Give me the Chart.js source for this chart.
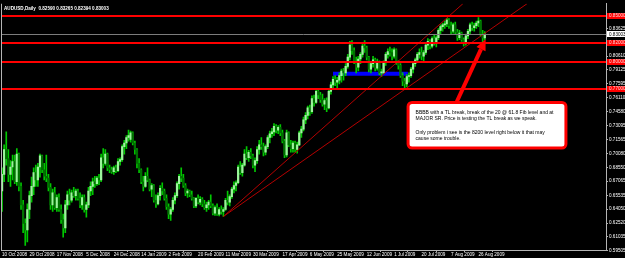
<!DOCTYPE html>
<html>
<head>
<meta charset="utf-8">
<script src="https://cdn.jsdelivr.net/npm/chart.js@4.4.1/dist/chart.umd.min.js"></script>
<style>
  html, body { margin: 0; padding: 0; background: #000; }
  #wrap { width: 625px; height: 258px; }
</style>
</head>
<body>
<div id="wrap"><canvas id="chart" width="625" height="258"></canvas></div>
<script>
const headerText = 'AUDUSD,Daily  0.82590 0.83265 0.82394 0.83003';

// x axis: bar index of each date label, and its text
const dateTickIndex = [0, 13, 26, 40, 53, 66, 79, 93, 106, 119, 133, 146, 159, 173, 186, 199, 213, 226];
const dateLabels = ['10 Oct 2008', '29 Oct 2008', '17 Nov 2008', '5 Dec 2008', '24 Dec 2008', '14 Jan 2009',
  '2 Feb 2009', '20 Feb 2009', '11 Mar 2009', '30 Mar 2009', '17 Apr 2009', '6 May 2009', '25 May 2009',
  '12 Jun 2009', '1 Jul 2009', '20 Jul 2009', '7 Aug 2009', '26 Aug 2009'];

// right price scale labels
const priceTicks = [0.59505, 0.61035, 0.62520, 0.64050, 0.65535, 0.67065, 0.68550, 0.70080, 0.71565,
  0.73095, 0.74580, 0.76110, 0.77595, 0.79125, 0.80610, 0.83625];

// daily OHLC, one entry per trading day from 10 Oct 2008
const opens = [
  .6600,.6780,.7050,.6950,.6780,.6860,.6920,.6700,.7000,.6650,
  .6450,.6250,.6180,.6400,.6550,.6650,.6800,.6720,.6860,.6980,
  .6830,.6760,.6740,.6640,.6450,.6580,.6420,.6530,.6400,.6290,
  .6200,.6450,.6560,.6500,.6580,.6550,.6600,.6520,.6450,.6530,
  .6400,.6450,.6600,.6650,.6700,.6680,.6740,.6720,.6960,.6900,
  .7000,.6850,.6830,.6810,.6850,.6820,.6920,.6940,.7080,.7120,
  .7180,.7160,.7230,.7120,.7050,.6900,.6830,.6700,.6650,.6760,
  .6720,.6620,.6660,.6500,.6460,.6550,.6630,.6600,.6520,.6430,
  .6350,.6400,.6500,.6550,.6680,.6760,.6740,.6660,.6580,.6600,
  .6560,.6520,.6440,.6520,.6480,.6510,.6460,.6420,.6450,.6480,
  .6440,.6360,.6420,.6350,.6400,.6380,.6400,.6500,.6480,.6540,
  .6620,.6660,.6690,.6860,.6800,.6880,.7000,.6960,.7020,.6980,
  .6880,.6930,.7050,.7100,.7080,.7020,.7080,.7180,.7220,.7240,
  .7300,.7260,.7290,.7230,.7140,.6990,.7230,.7100,.7060,.7120,
  .7050,.7100,.7230,.7270,.7370,.7420,.7500,.7460,.7600,.7560,
  .7680,.7640,.7590,.7540,.7580,.7500,.7680,.7750,.7810,.7780,
  .7800,.7850,.7900,.7880,.7950,.8050,.8180,.8120,.8000,.7940,
  .8030,.8080,.8170,.8150,.8050,.7920,.7980,.8020,.7930,.8000,
  .7880,.7880,.7990,.8080,.8110,.8100,.8060,.8130,.7990,.7960,
  .7850,.7790,.7760,.7840,.7850,.7920,.7980,.8020,.8080,.8100,
  .8060,.8100,.8180,.8220,.8170,.8250,.8210,.8260,.8340,.8380,
  .8400,.8410,.8450,.8390,.8330,.8400,.8320,.8260,.8310,.8240,
  .8200,.8280,.8330,.8400,.8370,.8390,.8420,.8440,.8300,.82590
];
const highs = [
  .6850,.7100,.7240,.7050,.6930,.6990,.6990,.7060,.7010,.6690,
  .6500,.6300,.6460,.6600,.6750,.6850,.6880,.6900,.7000,.6990,
  .6900,.6990,.6780,.6680,.6620,.6640,.6560,.6570,.6450,.6350,
  .6500,.6600,.6620,.6610,.6640,.6620,.6620,.6580,.6560,.6560,
  .6480,.6640,.6700,.6740,.6760,.6760,.6780,.7000,.7060,.7050,
  .7010,.6880,.6860,.6870,.6880,.6950,.6960,.7100,.7150,.7200,
  .7259,.7250,.7240,.7140,.7060,.6950,.6840,.6760,.6800,.6850,
  .6730,.6680,.6670,.6560,.6580,.6660,.6690,.6620,.6560,.6460,
  .6420,.6530,.6580,.6700,.6780,.6850,.6780,.6680,.6620,.6610,
  .6600,.6530,.6530,.6560,.6540,.6530,.6500,.6480,.6500,.6560,
  .6460,.6440,.6460,.6420,.6440,.6420,.6520,.6600,.6560,.6640,
  .6700,.6710,.6880,.6920,.6900,.7050,.7080,.7040,.7060,.7000,
  .6960,.7080,.7150,.7180,.7120,.7100,.7200,.7250,.7280,.7330,
  .7320,.7310,.7320,.7260,.7160,.7260,.7240,.7150,.7140,.7140,
  .7130,.7250,.7300,.7400,.7450,.7520,.7530,.7630,.7640,.7700,
  .7710,.7670,.7650,.7600,.7610,.7700,.7780,.7840,.7850,.7830,
  .7880,.7920,.7930,.7980,.8080,.8220,.8230,.8150,.8050,.8060,
  .8100,.8200,.8230,.8170,.8060,.8000,.8060,.8040,.8030,.8010,
  .7920,.8010,.8100,.8140,.8160,.8140,.8150,.8140,.8010,.7980,
  .7880,.7820,.7860,.7880,.7940,.8000,.8040,.8100,.8140,.8160,
  .8120,.8200,.8250,.8240,.8270,.8290,.8280,.8360,.8400,.8420,
  .8440,.8470,.8468,.8430,.8420,.8430,.8350,.8340,.8320,.8260,
  .8300,.8350,.8420,.8430,.8420,.8440,.8479,.8450,.8340,.83265
];
const lows = [
  .6380,.6700,.6880,.6700,.6650,.6720,.6680,.6660,.6600,.6400,
  .6150,.6010,.6050,.6300,.6480,.6560,.6650,.6650,.6750,.6800,
  .6720,.6700,.6600,.6400,.6380,.6400,.6380,.6380,.6250,.6100,
  .6150,.6400,.6450,.6480,.6530,.6500,.6500,.6420,.6400,.6370,
  .6317,.6420,.6550,.6560,.6640,.6660,.6670,.6700,.6850,.6880,
  .6820,.6800,.6790,.6780,.6800,.6810,.6880,.6920,.7000,.7060,
  .7140,.7130,.7100,.7000,.6850,.6800,.6680,.6600,.6640,.6700,
  .6600,.6540,.6480,.6423,.6450,.6500,.6560,.6500,.6400,.6300,
  .6281,.6380,.6460,.6530,.6620,.6700,.6640,.6550,.6530,.6540,
  .6500,.6420,.6420,.6460,.6450,.6430,.6400,.6380,.6400,.6420,
  .6340,.6335,.6335,.6330,.6350,.6324,.6390,.6450,.6440,.6520,
  .6580,.6600,.6680,.6780,.6760,.6870,.6940,.6920,.6950,.6850,
  .6810,.6900,.7000,.7050,.6980,.6990,.7060,.7120,.7180,.7200,
  .7230,.7220,.7200,.7120,.6960,.6970,.7080,.7020,.7020,.7020,
  .7010,.7090,.7180,.7250,.7330,.7380,.7420,.7440,.7520,.7550,
  .7600,.7560,.7520,.7480,.7460,.7490,.7650,.7720,.7740,.7700,
  .7760,.7780,.7800,.7850,.7930,.8020,.8080,.7980,.7880,.7900,
  .7980,.8050,.8100,.8020,.7890,.7880,.7940,.7900,.7910,.7860,
  .7840,.7870,.7960,.8040,.8060,.8020,.8040,.7970,.7920,.7830,
  .7740,.7710,.7730,.7780,.7830,.7880,.7950,.8000,.8040,.8020,
  .8010,.8080,.8130,.8140,.8150,.8180,.8160,.8240,.8300,.8330,
  .8360,.8380,.8360,.8300,.8310,.8300,.8230,.8240,.8220,.8170,
  .8180,.8250,.8300,.8340,.8330,.8360,.8380,.8280,.8200,.82394
];
const closes = [
  .6780,.7050,.6950,.6780,.6860,.6920,.6700,.7000,.6650,.6450,
  .6250,.6180,.6400,.6550,.6650,.6800,.6720,.6860,.6980,.6830,
  .6760,.6740,.6640,.6450,.6580,.6420,.6530,.6400,.6290,.6200,
  .6450,.6560,.6500,.6580,.6550,.6600,.6520,.6450,.6530,.6400,
  .6450,.6600,.6650,.6700,.6680,.6740,.6720,.6960,.6900,.7000,
  .6850,.6830,.6810,.6850,.6820,.6920,.6940,.7080,.7120,.7180,
  .7200,.7230,.7120,.7050,.6900,.6830,.6700,.6650,.6760,.6720,
  .6620,.6660,.6500,.6460,.6550,.6630,.6600,.6520,.6430,.6350,
  .6400,.6500,.6550,.6680,.6760,.6740,.6660,.6580,.6600,.6560,
  .6520,.6440,.6520,.6480,.6510,.6460,.6420,.6450,.6480,.6440,
  .6360,.6420,.6350,.6400,.6380,.6400,.6500,.6480,.6540,.6620,
  .6660,.6690,.6860,.6800,.6880,.7000,.6960,.7020,.6980,.6880,
  .6930,.7050,.7100,.7080,.7020,.7080,.7180,.7220,.7240,.7300,
  .7260,.7290,.7230,.7140,.6990,.7230,.7100,.7060,.7120,.7050,
  .7100,.7230,.7270,.7370,.7420,.7500,.7460,.7600,.7560,.7680,
  .7640,.7590,.7540,.7580,.7500,.7680,.7750,.7810,.7780,.7800,
  .7850,.7900,.7880,.7950,.8050,.8180,.8120,.8000,.7940,.8030,
  .8080,.8170,.8150,.8050,.7920,.7980,.8020,.7930,.8000,.7880,
  .7880,.7990,.8080,.8110,.8100,.8060,.8130,.7990,.7960,.7850,
  .7790,.7760,.7840,.7850,.7920,.7980,.8020,.8080,.8100,.8060,
  .8100,.8180,.8220,.8170,.8250,.8210,.8260,.8340,.8380,.8400,
  .8410,.8450,.8390,.8330,.8400,.8320,.8260,.8310,.8240,.8200,
  .8280,.8330,.8400,.8370,.8390,.8420,.8440,.8300,.8259,.83003
];

// drawn objects (bar index, price)
const levels = [0.85, 0.82, 0.80, 0.77];
const lastPrice = 0.83003;
const trendLineA = [{ x: 105, y: 0.6324 }, { x: 218.6, y: 0.8628 }];
const trendLineB = [{ x: 105, y: 0.6324 }, { x: 249, y: 0.8628 }];
const blueZone = [{ x: 157, y: 0.7871 }, { x: 192.5, y: 0.7871 }];
const arrowFrom = { x: 215.6, y: 0.7561 };
const arrowTo = { x: 229.4, y: 0.8244 };
const noteCorners = [{ x: 191.9, y: 0.7575 }, { x: 268.2, y: 0.7049 }];
const noteLines = [
  'BBBB with a TL break, break of the 20 @ 61.8 Fib level and at',
  'MAJOR SR. Price is testing the TL break as we speak.',
  '',
  'Only problem i see is the 8200 level right below it that may',
  'cause some trouble.'
];

const axisGrey = '#b4b4b4';
const smallFont = '"Liberation Sans", Arial, sans-serif';

const overlay = {
  id: 'overlay',
  beforeDraw(chart) {
    const { ctx, width, height } = chart;
    ctx.save();
    ctx.fillStyle = '#000';
    ctx.fillRect(0, 0, width, height);
    ctx.restore();
  },
  afterDatasetsDraw(chart) {
    const { ctx, chartArea: a, scales: { x, y } } = chart;
    ctx.save();
    ctx.beginPath();
    ctx.rect(a.left, a.top, a.right - a.left, a.bottom - a.top);
    ctx.clip();

    // last price line
    const lp = Math.round(y.getPixelForValue(lastPrice)) + 0.5;
    ctx.strokeStyle = '#7c7c7c';
    ctx.lineWidth = 1;
    ctx.beginPath();
    ctx.moveTo(a.left, lp);
    ctx.lineTo(a.right, lp);
    ctx.stroke();

    // horizontal levels
    ctx.strokeStyle = '#ff0000';
    ctx.lineWidth = 2;
    levels.forEach(v => {
      const py = Math.round(y.getPixelForValue(v));
      ctx.beginPath();
      ctx.moveTo(a.left, py);
      ctx.lineTo(a.right, py);
      ctx.stroke();
    });

    // arrow
    const fx = x.getPixelForValue(arrowFrom.x), fy = y.getPixelForValue(arrowFrom.y);
    const tx = x.getPixelForValue(arrowTo.x), ty = y.getPixelForValue(arrowTo.y);
    const ang = Math.atan2(ty - fy, tx - fx);
    const headLen = 11, headHalf = 5;
    const bx = tx - headLen * Math.cos(ang), by = ty - headLen * Math.sin(ang);
    ctx.strokeStyle = '#ff0000';
    ctx.lineWidth = 4;
    ctx.beginPath();
    ctx.moveTo(fx, fy);
    ctx.lineTo(bx, by);
    ctx.stroke();
    ctx.fillStyle = '#ff0000';
    ctx.beginPath();
    ctx.moveTo(tx, ty);
    ctx.lineTo(bx + headHalf * Math.sin(ang), by - headHalf * Math.cos(ang));
    ctx.lineTo(bx - headHalf * Math.sin(ang), by + headHalf * Math.cos(ang));
    ctx.closePath();
    ctx.fill();

    // note box
    const nx1 = x.getPixelForValue(noteCorners[0].x), ny1 = y.getPixelForValue(noteCorners[0].y);
    const nx2 = x.getPixelForValue(noteCorners[1].x), ny2 = y.getPixelForValue(noteCorners[1].y);
    ctx.beginPath();
    ctx.roundRect(nx1 + 1.5, ny1 + 1.5, nx2 - nx1 - 3, ny2 - ny1 - 3, 4);
    ctx.fillStyle = '#ffffff';
    ctx.fill();
    ctx.lineWidth = 3;
    ctx.strokeStyle = '#ff0000';
    ctx.stroke();
    ctx.fillStyle = '#000000';
    ctx.font = '5px ' + smallFont;
    ctx.textBaseline = 'middle';
    ctx.textAlign = 'left';
    noteLines.forEach((line, k) => {
      ctx.fillText(line, nx1 + 9, ny1 + 11.5 + k * 6.6);
    });

    // header
    ctx.fillStyle = '#ffffff';
    ctx.font = 'bold 4.6px ' + smallFont;
    ctx.fillText(headerText, a.left + 3, a.top + 5);
    ctx.restore();

    // price tags on the right scale
    ctx.save();
    ctx.font = '4.6px ' + smallFont;
    ctx.textBaseline = 'middle';
    ctx.textAlign = 'left';
    levels.forEach(v => {
      const py = Math.round(y.getPixelForValue(v));
      ctx.fillStyle = '#ff0000';
      ctx.fillRect(a.right + 1, py - 3, 30, 6);
      ctx.fillStyle = '#ffd8d8';
      ctx.fillText(v.toFixed(5), a.right + 3, py);
    });
    ctx.fillStyle = '#ffffff';
    ctx.fillRect(a.right + 1, lp - 3.5, 30, 6);
    ctx.fillStyle = '#000000';
    ctx.fillText(lastPrice.toFixed(5), a.right + 3, lp);

    // left frame edge
    ctx.strokeStyle = axisGrey;
    ctx.lineWidth = 1;
    ctx.beginPath();
    ctx.moveTo(a.left + 0.5, a.top);
    ctx.lineTo(a.left + 0.5, a.bottom);
    ctx.stroke();
    ctx.restore();
  }
};

const candleData = closes.map((c, i) => ({ x: i, y: [opens[i], c] }));
const wickData = closes.map((c, i) => ({ x: i, y: [lows[i], highs[i]] }));
const bodyColors = closes.map((c, i) => (c >= opens[i] ? '#9cf59c' : '#007000'));

new Chart(document.getElementById('chart'), {
  type: 'bar',
  data: {
    datasets: [
      {
        type: 'line', data: blueZone, borderColor: '#0000ff', borderWidth: 4,
        pointRadius: 0, order: 5
      },
      {
        data: wickData, backgroundColor: '#00c800', barThickness: 1,
        grouped: false, order: 3
      },
      {
        data: candleData, backgroundColor: bodyColors, barThickness: 1.6,
        minBarLength: 1, grouped: false, order: 2
      },
      {
        type: 'line', data: trendLineA, borderColor: '#b40000', borderWidth: 1,
        pointRadius: 0, order: 1
      },
      {
        type: 'line', data: trendLineB, borderColor: '#b40000', borderWidth: 1,
        pointRadius: 0, order: 1
      }
    ]
  },
  options: {
    responsive: false,
    animation: false,
    devicePixelRatio: 1,
    layout: { padding: { left: 1, top: 0, right: 0, bottom: 0 } },
    plugins: { legend: { display: false }, tooltip: { enabled: false } },
    scales: {
      x: {
        type: 'linear',
        min: -0.5,
        max: 286.5,
        offset: false,
        grid: { drawOnChartArea: false, tickLength: 2, color: axisGrey },
        border: { color: axisGrey },
        ticks: {
          color: '#ffffff',
          font: { size: 4.6, family: smallFont },
          padding: 0,
          align: 'start',
          autoSkip: false,
          maxRotation: 0,
          minRotation: 0,
          callback: v => dateLabels[dateTickIndex.indexOf(v)]
        },
        afterBuildTicks: axis => { axis.ticks = dateTickIndex.map(v => ({ value: v })); },
        afterFit: axis => { axis.height = 8; }
      },
      y: {
        position: 'right',
        min: 0.59613,
        max: 0.8628,
        grid: { drawOnChartArea: false, tickLength: 2, color: axisGrey },
        border: { color: axisGrey },
        ticks: {
          color: '#ffffff',
          font: { size: 4.6, family: smallFont },
          padding: 1,
          callback: v => v.toFixed(5)
        },
        afterBuildTicks: axis => { axis.ticks = priceTicks.map(v => ({ value: v })); },
        afterFit: axis => { axis.width = 19; }
      }
    }
  },
  plugins: [overlay]
});
</script>
</body>
</html>
